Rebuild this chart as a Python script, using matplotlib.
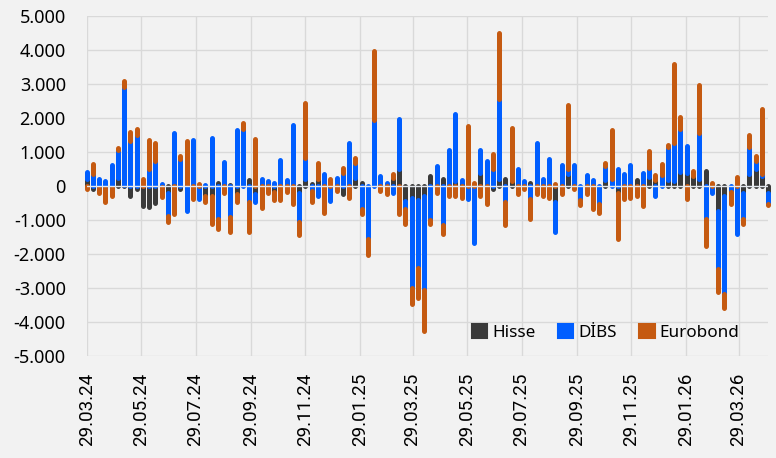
import numpy as np
import pandas as pd
import matplotlib
matplotlib.use("Agg")
import matplotlib.pyplot as plt
import matplotlib.dates as mdates
from matplotlib.ticker import FuncFormatter, MultipleLocator

# weekly flows, 29.03.24 onwards (110 weeks)
dates = pd.date_range('2024-03-29', periods=110, freq='7D')

hisse = [200, -100, -50, -50, -50, 240, 30, -290, -100, -580,
         -630, -490, -30, -200, 100, -100, 50, 0, 0, -290,
         -290, 80, 0, 30, -240, 0, 190, -240, 0, 0,
         -180, 30, 0, 30, -200, 200, 50, 200, 0, 0,
         0, -240, 0, 240, 100, 0, 0, 0, 0, 240,
         490, -440, -340, -400, -290, 290, 0, 200, 0, 150,
         100, 0, 0, 390, 50, -100, 200, 200, 150, 50,
         0, 100, 0, 0, 0, -480, 0, 340, 0, 0,
         0, 0, 0, 170, 0, -200, 0, 0, 170, 0,
         260, 190, 0, 170, 150, 410, 370, 290, 210, 440,
         0, -730, -290, 0, 0, -200, 340, 500, 300, -200]

dibs = [200, 340, 200, 150, 610, 830, 2870, 1310, 1500, 0,
        490, 730, 50, -670, 1450, 780, -730, 1360, -390, 30,
        1410, -970, 700, -920, 1650, 1670, -480, -240, 210, 150,
        80, 730, 170, 1770, -870, 630, -150, -290, 360, -440,
        240, 390, 1260, 430, -680, -1550, 1940, 290, 80, -210,
        1490, -240, -2660, -2000, -2770, -990, 580, -1140, 1070, 1980,
        70, -390, -1670, 680, 680, 490, 2370, -480, 0, 450,
        160, -390, 1260, 220, 800, -860, 630, 160, 630, -400,
        320, 170, -530, 410, 200, 490, 340, 610, 0, 390,
        270, -290, 310, 990, 1110, 1260, 810, 0, 1340, -970,
        -200, -1700, -2890, -180, -1400, -770, 800, 230, 50, -330]

eurobond = [-100, 320, -150, -430, -240, 50, 200, 290, 170, 200,
            870, 530, -290, -200, -820, 90, 1260, -390, 50, -190,
            -820, -290, -200, -440, -240, 190, -860, 1380, -650, -200,
            -220, -400, -170, -530, -380, 1620, -320, 480, -780, 200,
            -150, 140, -340, 140, -140, -490, 2040, -150, -240, 120,
            -820, -430, -470, -900, -1210, -120, -200, -260, -290, -290,
            -340, 1750, 100, -290, -530, 460, 1940, -660, 1550, -240,
            -100, -580, -240, -290, -340, 50, -240, 1880, -100, -160,
            -240, -680, -250, 100, 1450, -1350, -390, -340, -290, -580,
            490, 130, 350, 50, 2330, 350, -390, 150, 1410, -800,
            100, -690, -410, -350, 270, -140, 360, 160, 1900, -30]

labels = ['Hisse', 'DİBS', 'Eurobond']
colors = ['#3A3A3A', '#005EFF', '#C55A11']
bg = '#F2F2F2'

fig = plt.figure(figsize=(7.76, 4.58), dpi=100, facecolor=bg)
ax = fig.add_axes([0.1117, 0.2227, 0.8780, 0.7424], facecolor=bg)

# stack positives and negatives separately, rounded ends like the original
pos_base = np.zeros(len(dates))
neg_base = np.zeros(len(dates))
for vals, col in zip([hisse, dibs, eurobond], colors):
    v = np.array(vals, dtype=float)
    pos = np.where(v > 0, v, 0)
    neg = np.where(v < 0, v, 0)
    m = pos > 0
    ax.vlines(dates[m], pos_base[m], pos_base[m] + pos[m], colors=col,
              linewidth=3.6, capstyle='round', zorder=3, clip_on=False)
    m = neg < 0
    ax.vlines(dates[m], neg_base[m], neg_base[m] + neg[m], colors=col,
              linewidth=3.6, capstyle='round', zorder=3, clip_on=False)
    pos_base += pos
    neg_base += neg

ax.axhline(0, color='#E4E8EE', linewidth=1, zorder=4)

ax.set_ylim(-5000, 5000)
ax.yaxis.set_major_locator(MultipleLocator(1000))
ax.yaxis.set_major_formatter(FuncFormatter(lambda v, p: f"{v:,.0f}".replace(',', '.')))
ax.set_xlim(pd.Timestamp('2024-03-29'), pd.Timestamp('2026-05-01'))
ax.xaxis.set_major_locator(mdates.MonthLocator(bymonth=[1, 3, 5, 7, 9, 11], bymonthday=29))
ax.xaxis.set_major_formatter(mdates.DateFormatter('%d.%m.%y'))

ax.grid(True, color='#D9D9D9', linewidth=1, zorder=0)
ax.set_axisbelow(True)
for s in ax.spines.values():
    s.set_visible(False)
ax.tick_params(axis='both', length=0)
ax.tick_params(axis='y', pad=15, labelsize=13)
ax.tick_params(axis='x', pad=12, labelsize=13.5, rotation=90)
for t in ax.get_yticklabels():
    t.set_fontfamily('Noto Sans')
for t in ax.get_xticklabels():
    t.set_fontfamily('Roboto')

handles = [plt.Rectangle((0, 0), 1, 1, facecolor=c, edgecolor=c, joinstyle='round', linewidth=1.5)
           for c in colors]
ax.legend(handles, labels, loc='center', bbox_to_anchor=(0.762, 0.07), ncol=3, frameon=False,
          handlelength=0.9, handleheight=0.9, handletextpad=0.3, columnspacing=1.3,
          prop={'family': 'Noto Sans', 'size': 12.3})

fig.savefig('out.png', dpi=100, facecolor=bg)
